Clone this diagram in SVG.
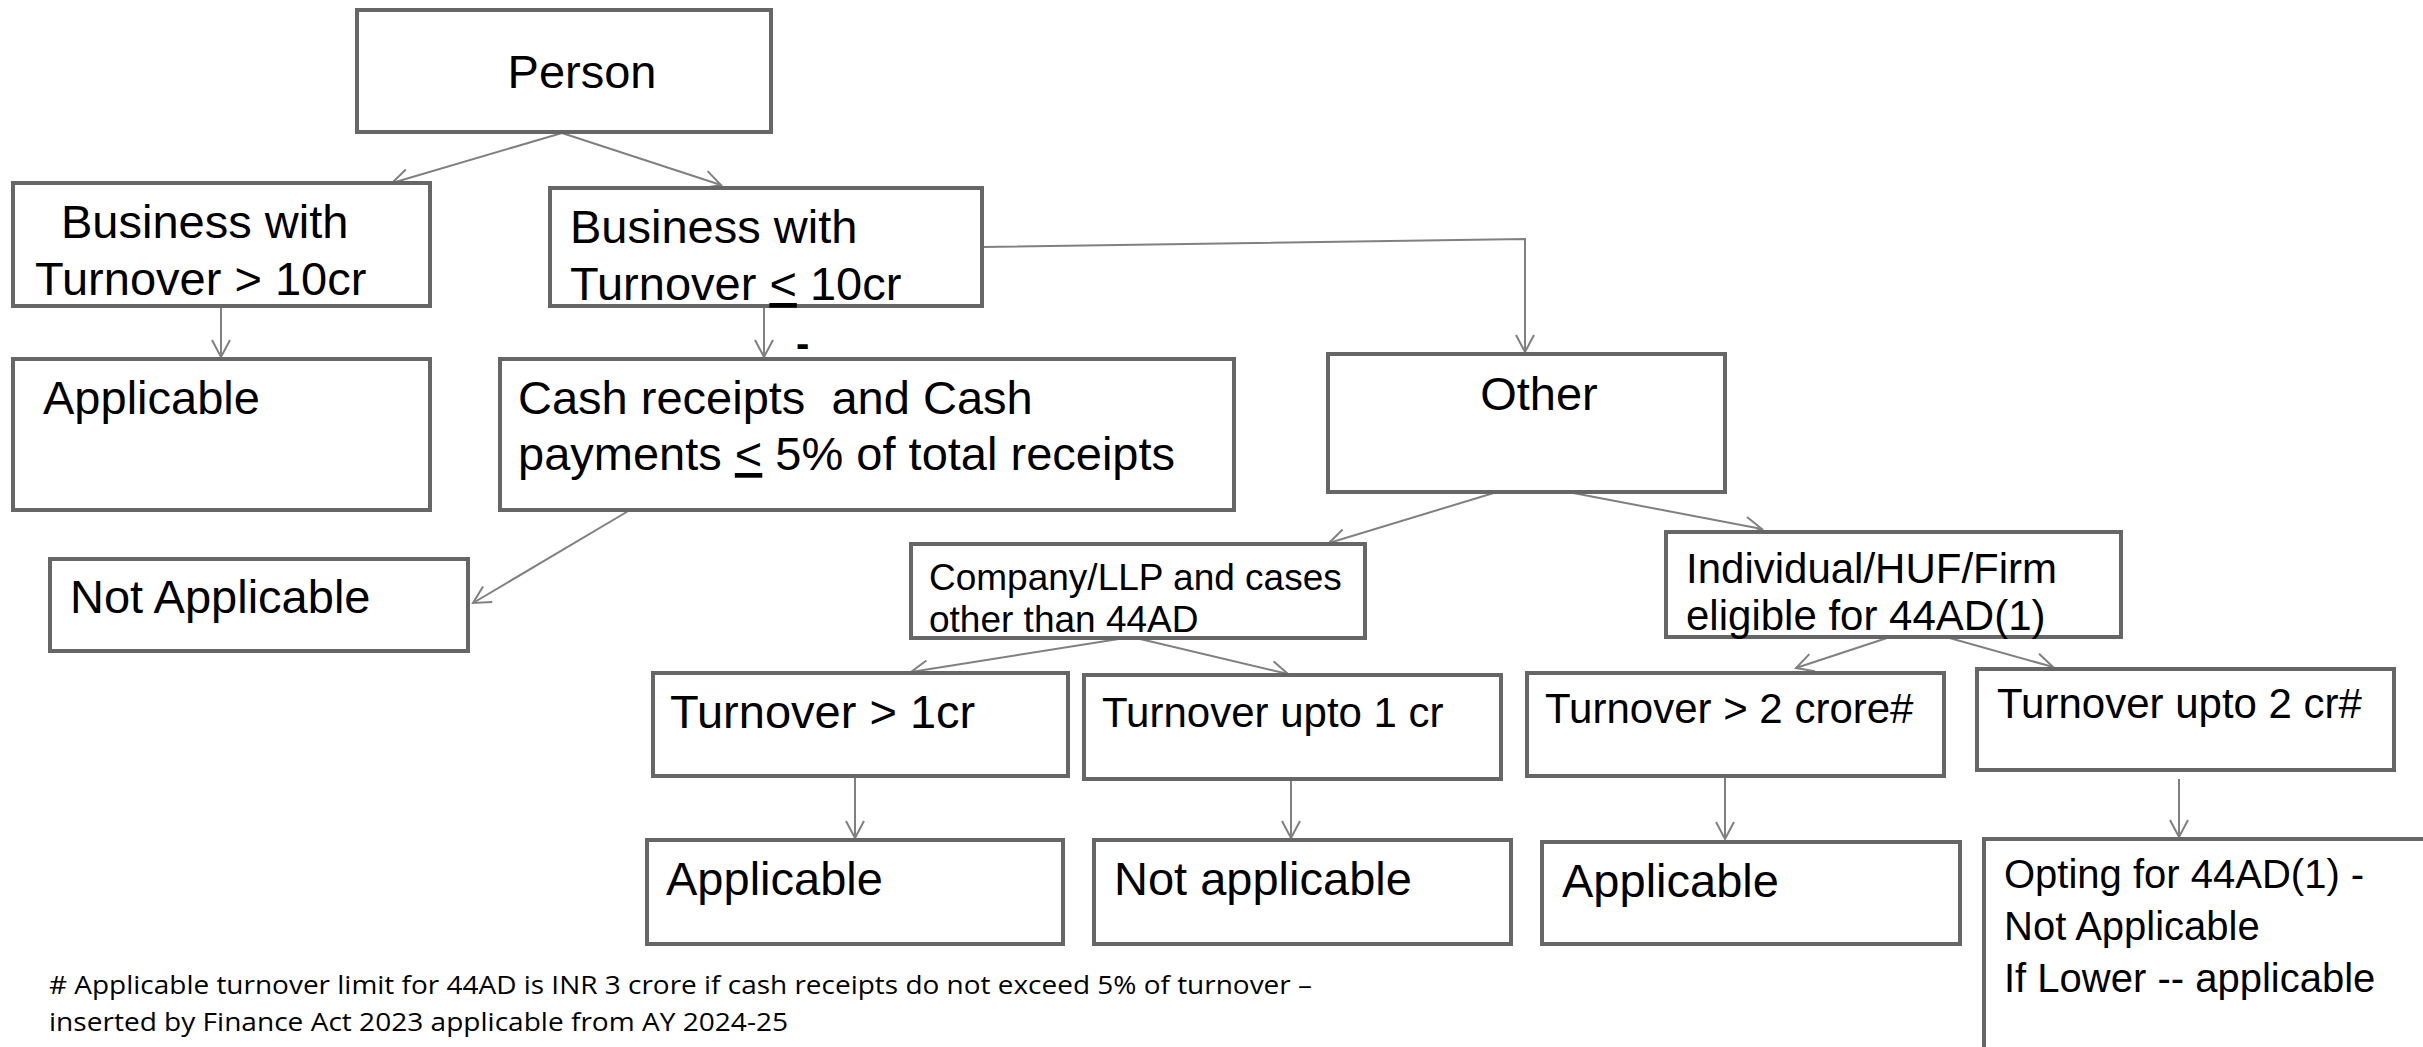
<svg xmlns="http://www.w3.org/2000/svg" width="2423" height="1047" viewBox="0 0 2423 1047">
<style>
.box{fill:#fff;stroke:#666;stroke-width:4}
.t{font-family:"Liberation Sans",Arial,sans-serif;fill:#000}
.l{font-size:47px}
.m{font-size:42px}
.s{font-size:37px}
.o{font-size:40px}
.c{fill:none;stroke:#808080;stroke-width:2}
.f{font-family:"Open Sans","Liberation Sans",sans-serif;font-size:26px;fill:#000}
</style>
<defs>
<marker id="ah" viewBox="0 0 20 20" refX="18" refY="10" markerWidth="20" markerHeight="20" markerUnits="userSpaceOnUse" orient="auto">
<path d="M1,1 L18,10 L1,19" fill="none" stroke="#808080" stroke-width="2"/>
</marker>
</defs>
<rect width="2423" height="1047" fill="#fff"/>
<g id="connectors" class="c" marker-end="url(#ah)">
<line x1="562" y1="133" x2="392" y2="183"/>
<line x1="562" y1="133" x2="721" y2="185"/>
<line x1="221" y1="306" x2="221" y2="357"/>
<line x1="764" y1="306" x2="764" y2="357"/>
<polyline points="982,247 1525,239 1525,352"/>
<line x1="630" y1="510" x2="473" y2="603"/>
<line x1="1497" y1="492" x2="1329" y2="543"/>
<line x1="1568" y1="492" x2="1762" y2="529"/>
<line x1="1125" y1="638" x2="911" y2="672"/>
<line x1="1136" y1="638" x2="1288" y2="674"/>
<line x1="1890" y1="637" x2="1796" y2="668"/>
<line x1="1946" y1="637" x2="2053" y2="667"/>
<line x1="855" y1="776" x2="855" y2="838"/>
<line x1="1291" y1="779" x2="1291" y2="838"/>
<line x1="1725" y1="776" x2="1725" y2="839"/>
<line x1="2179" y1="779" x2="2179" y2="837"/>
</g>
<g id="person"><rect class="box" x="357" y="10" width="414" height="122"/><text class="t l" x="582" y="88" text-anchor="middle">Person</text></g>
<g id="biz-gt10"><rect class="box" x="13" y="183" width="417" height="123"/><text class="t l" x="61" y="238">Business with</text><text class="t l" x="35" y="295">Turnover &gt; 10cr</text></g>
<g id="biz-le10"><rect class="box" x="550" y="188" width="432" height="118"/><text class="t l" x="570" y="243">Business with</text><text class="t l" x="570" y="300">Turnover <tspan text-decoration="underline">&lt;</tspan> 10cr</text></g>
<text class="t" x="796" y="357" font-size="40" font-weight="bold">-</text>
<g id="applicable-1"><rect class="box" x="13" y="359" width="417" height="151"/><text class="t l" x="43" y="414">Applicable</text></g>
<g id="cash"><rect class="box" x="500" y="359" width="734" height="151"/><text class="t l" x="518" y="414" xml:space="preserve">Cash receipts  and Cash</text><text class="t l" x="518" y="470">payments <tspan text-decoration="underline">&lt;</tspan> 5% of total receipts</text></g>
<g id="not-applicable-1"><rect class="box" x="50" y="559" width="418" height="92"/><text class="t l" x="70" y="613">Not Applicable</text></g>
<g id="other"><rect class="box" x="1328" y="354" width="397" height="138"/><text class="t l" x="1539" y="410" text-anchor="middle">Other</text></g>
<g id="company"><rect class="box" x="911" y="544" width="454" height="94"/><text class="t s" x="929" y="590">Company/LLP and cases</text><text class="t s" x="929" y="632">other than 44AD</text></g>
<g id="individual"><rect class="box" x="1666" y="532" width="455" height="105"/><text class="t m" x="1686" y="583">Individual/HUF/Firm</text><text class="t m" x="1686" y="630">eligible for 44AD(1)</text></g>
<g id="t-gt1"><rect class="box" x="653" y="673" width="415" height="103"/><text class="t l" x="670" y="728">Turnover &gt; 1cr</text></g>
<g id="t-upto1"><rect class="box" x="1084" y="675" width="417" height="104"/><text class="t m" x="1102" y="727">Turnover upto 1 cr</text></g>
<g id="t-gt2"><rect class="box" x="1527" y="673" width="417" height="103"/><text class="t m" x="1545" y="723">Turnover &gt; 2 crore#</text></g>
<g id="t-upto2"><rect class="box" x="1977" y="669" width="417" height="101"/><text class="t m" x="1997" y="718">Turnover upto 2 cr#</text></g>
<g id="applicable-2"><rect class="box" x="647" y="840" width="416" height="104"/><text class="t l" x="666" y="895">Applicable</text></g>
<g id="not-applicable-2"><rect class="box" x="1094" y="840" width="417" height="104"/><text class="t l" x="1114" y="895">Not applicable</text></g>
<g id="applicable-3"><rect class="box" x="1542" y="842" width="418" height="102"/><text class="t l" x="1562" y="897">Applicable</text></g>
<g id="opting"><rect class="box" x="1984" y="839" width="470" height="240"/><text class="t o" x="2004" y="888">Opting for 44AD(1) -</text><text class="t o" x="2004" y="940">Not Applicable</text><text class="t o" x="2004" y="992">If Lower -- applicable</text></g>
<g id="footnote"><text class="f" x="49" y="994" textLength="1263" lengthAdjust="spacingAndGlyphs"># Applicable turnover limit for 44AD is INR 3 crore if cash receipts do not exceed 5% of turnover –</text><text class="f" x="49" y="1031" textLength="739" lengthAdjust="spacingAndGlyphs">inserted by Finance Act 2023 applicable from AY 2024-25</text></g>
</svg>
